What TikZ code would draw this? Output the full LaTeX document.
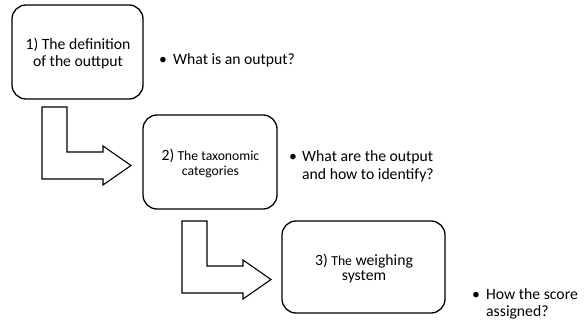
\documentclass[tikz,border=0pt]{standalone}
\usepackage{fontspec}
\setmainfont{Carlito}
\begin{document}
\begin{tikzpicture}[x=1pt,y=-1pt,
  stagebox/.style={draw=black,line width=1.3pt,rounded corners=14pt,fill=white},
  blockarrow/.style={draw=black,line width=1.1pt,fill=white,line join=miter},
  big/.style={font=\fontsize{15.7}{17}\selectfont},
  small/.style={font=\fontsize{13.7}{17}\selectfont},
  linetxt/.style={anchor=base,inner sep=0pt},
  note/.style={font=\fontsize{15.7}{17}\selectfont,anchor=base west,inner sep=0pt},
  dot/.style={font=\fontsize{15.7}{17}\selectfont,anchor=base,inner sep=0pt}]
\useasboundingbox (0,0) rectangle (585,320);
\fill[white] (0,0) rectangle (585,320);

% stage boxes with their titles
\draw[stagebox] (12,5) rectangle (143,99);
\node[big,linetxt] (s1a) at (78,50) {1) The definition};
\node[big,linetxt] (s1b) at (78,67) {of the outtput};

\draw[stagebox] (143,115) rectangle (277,209);
\node[small,linetxt] (s2a) at (210.5,161) {{\fontsize{15.7}{17}\selectfont 2)} The taxonomic};
\node[small,linetxt] (s2b) at (210.5,176) {categories};

\draw[stagebox] (282,221) rectangle (445,313);
\node[big,linetxt] (s3a) at (364,265) {3) {\fontsize{13.7}{17}\selectfont The} weighing};
\node[big,linetxt] (s3b) at (364,280) {system};

% L-shaped block arrows between the stages
\foreach \ox/\oy in {0/0,140/114}{
  \draw[blockarrow,shift={(\ox,\oy)}]
    (42,107) -- (67,107) -- (67,152) -- (103,152) -- (103,146)
    -- (131,165.5) -- (103,185) -- (103,179) -- (42,179) -- cycle;
}

% notes beside the stages
\node[dot] (d1) at (163,65) {\textbullet};
\node[note] (n1) at (173,65) {What is an output?};

\node[dot] (d2) at (293,162) {\textbullet};
\node[note] (n2a) at (302,162) {What are the output};
\node[note] (n2b) at (302,179) {and how to identify?};

\node[dot] (d3) at (476,299) {\textbullet};
\node[note] (n3a) at (486,299) {How the score};
\node[note] (n3b) at (486,316) {assigned?};
\end{tikzpicture}
\end{document}
